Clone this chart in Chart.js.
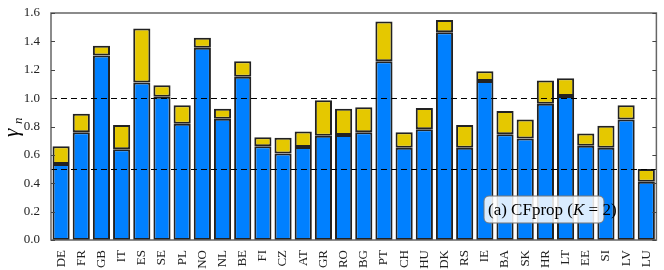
<!DOCTYPE html>
<html>
<head>
<meta charset="utf-8">
<script src="https://cdn.jsdelivr.net/npm/chart.js@4.4.1/dist/chart.umd.min.js"></script>
<style>
    html, body { margin: 0; padding: 0; background: #fff; }
    #wrap { width: 664px; height: 270px; position: relative; }
</style>
</head>
<body>
<div id="wrap"><canvas id="gamma-chart"></canvas></div>
<script>
const countries = ["DE", "FR", "GB", "IT", "ES", "SE", "PL", "NO", "NL", "BE",
    "FI", "CZ", "AT", "GR", "RO", "BG", "PT", "CH", "HU", "DK",
    "RS", "IE", "BA", "SK", "HR", "LT", "EE", "SI", "LV", "LU"];

// blue part (lower segment)
const baseValues = [0.535, 0.76, 1.30, 0.64, 1.11, 1.01, 0.82, 1.355, 0.855, 1.15,
    0.66, 0.61, 0.655, 0.735, 0.74, 0.76, 1.26, 0.65, 0.78, 1.465,
    0.65, 1.12, 0.745, 0.715, 0.96, 1.015, 0.665, 0.65, 0.85, 0.41];

// yellow part (upper segment, stacked on top)
const extraValues = [0.125, 0.13, 0.07, 0.17, 0.38, 0.08, 0.13, 0.07, 0.07, 0.11,
    0.065, 0.11, 0.11, 0.25, 0.185, 0.175, 0.28, 0.11, 0.15, 0.085,
    0.16, 0.07, 0.165, 0.135, 0.165, 0.125, 0.085, 0.155, 0.1, 0.09];

const yTicks = [0, 0.2, 0.4, 0.6, 0.8, 1.0, 1.2, 1.4, 1.6];
const refLines = [0.5, 1.0];

const serif = "'Liberation Serif', 'DejaVu Serif', serif";

const framePlugin = {
    id: "frame",
    afterDatasetsDraw(chart) {
        const { ctx, chartArea: a, scales: { y } } = chart;
        ctx.save();
        // dashed reference lines, on top of the bars
        ctx.strokeStyle = "#000";
        ctx.lineWidth = 1;
        ctx.setLineDash([6, 4]);
        refLines.forEach((v) => {
            const py = Math.round(y.getPixelForValue(v)) + 0.5;
            ctx.beginPath();
            ctx.moveTo(a.left, py);
            ctx.lineTo(a.right, py);
            ctx.stroke();
        });
        ctx.setLineDash([]);

        ctx.strokeStyle = "#666";
        ctx.lineWidth = 1.5;
        ctx.strokeRect(a.left, a.top, a.right - a.left, a.bottom - a.top);
        ctx.lineWidth = 1;
        ctx.strokeStyle = "#444";
        yTicks.forEach((v) => {
            const py = Math.round(y.getPixelForValue(v)) + 0.5;
            ctx.beginPath();
            ctx.moveTo(a.left, py);
            ctx.lineTo(a.left + 4, py);
            ctx.moveTo(a.right, py);
            ctx.lineTo(a.right - 4, py);
            ctx.stroke();
        });

        // label box
        const bx = 484, by = 196, bw = 120, bh = 27;
        ctx.beginPath();
        ctx.roundRect(bx, by, bw, bh, 5);
        ctx.fillStyle = "rgba(255,255,255,0.85)";
        ctx.fill();
        ctx.strokeStyle = "#777";
        ctx.stroke();
        ctx.fillStyle = "#000";
        ctx.textBaseline = "middle";
        const ty = by + bh / 2 + 1;
        let tx = bx + 4;
        const parts = [
            ["(a) CFprop (", "17px " + serif],
            ["K", "italic 17px " + serif],
            [" = 2)", "17px " + serif],
        ];
        parts.forEach(([t, f]) => {
            ctx.font = f;
            ctx.fillText(t, tx, ty);
            tx += ctx.measureText(t).width;
        });

        // y axis title: gamma with subscript n
        ctx.translate(18, 130);
        ctx.rotate(-Math.PI / 2);
        ctx.textBaseline = "alphabetic";
        ctx.font = "italic 21px " + serif;
        ctx.fillText("γ", -7, 0);
        ctx.font = "italic 13px " + serif;
        ctx.fillText("n", 6, 4);
        ctx.restore();
    },
};

new Chart(document.getElementById("gamma-chart"), {
    type: "bar",
    data: {
        labels: countries,
        datasets: [
            {
                data: baseValues,
                backgroundColor: "#0080ff",
                borderColor: "#222",
                borderWidth: 2,
                borderSkipped: false,
            },
            {
                data: extraValues,
                backgroundColor: "#e5c800",
                borderColor: "#222",
                borderWidth: 2,
                borderSkipped: false,
            },
        ],
    },
    options: {
        responsive: true,
        maintainAspectRatio: false,
        animation: false,
        datasets: {
            bar: { categoryPercentage: 1, barPercentage: 0.85 },
        },
        layout: { padding: { top: 13, right: 6, left: 0, bottom: 0 } },
        plugins: {
            legend: { display: false },
            tooltip: { enabled: false },
        },
        scales: {
            x: {
                stacked: true,
                grid: { display: false },
                border: { display: false },
                ticks: {
                    minRotation: 90,
                    maxRotation: 90,
                    color: "#222",
                    padding: 2,
                    font: { family: serif, size: 13 },
                },
                afterFit(scale) { scale.height = 30; },
            },
            y: {
                stacked: true,
                min: 0,
                max: 1.6,
                grid: { display: false },
                border: { display: false },
                ticks: {
                    stepSize: 0.2,
                    color: "#222",
                    padding: 3,
                    font: { family: serif, size: 13 },
                    callback: (v) => v.toFixed(1),
                },
                afterFit(scale) { scale.width = 51; },
            },
        },
    },
    plugins: [framePlugin],
});
</script>
</body>
</html>
